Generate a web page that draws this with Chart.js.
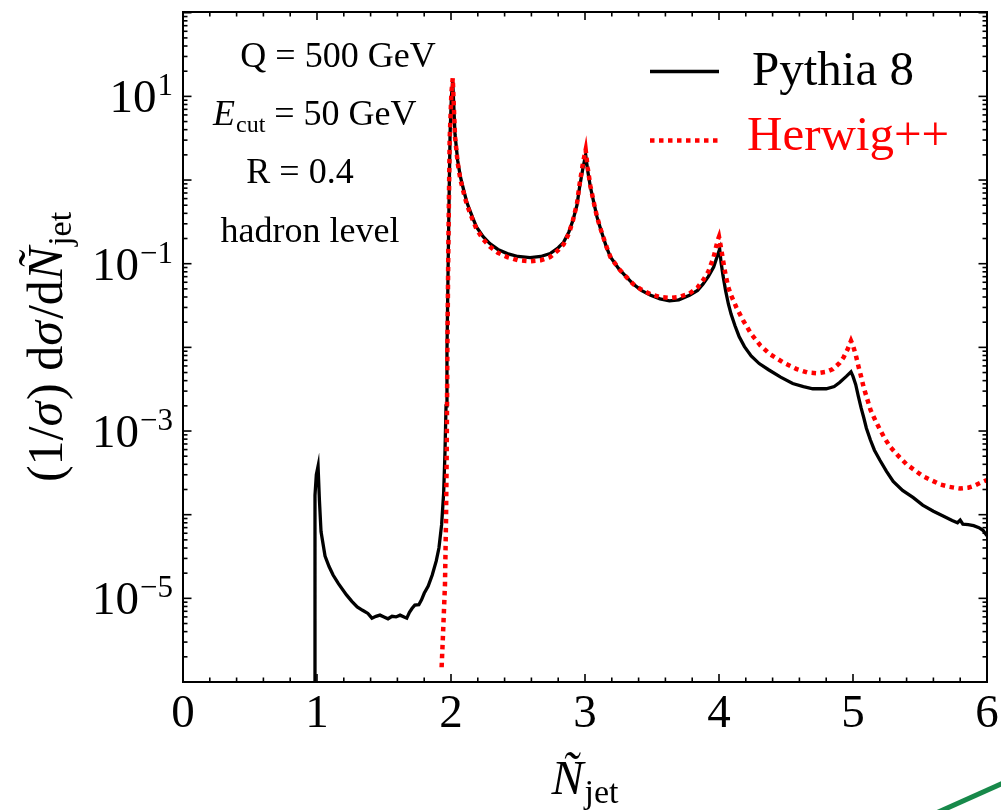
<!DOCTYPE html>
<html lang="en">
<head>
<meta charset="UTF-8">
<title>Ñjet distribution</title>
<script src="https://cdn.jsdelivr.net/npm/chart.js"></script>
<style>
  body { margin: 0; background: #fff; }
  canvas { display: block; }
</style>
</head>
<body>
<canvas id="grafico" width="1001" height="810"></canvas>
<script>
// Pythia 8, hadron level
const pythiaX = [0.98, 0.985, 0.995, 1.008, 1.018, 1.03, 1.06, 1.09, 1.12, 1.16, 1.22, 1.26, 1.30, 1.34, 1.38,
  1.41, 1.44, 1.47, 1.50, 1.53, 1.56, 1.59, 1.62, 1.65, 1.67, 1.69, 1.71, 1.73, 1.76, 1.78, 1.80, 1.83,
  1.86, 1.89, 1.91, 1.93, 1.945, 1.955, 1.963, 1.97, 1.977, 1.985, 1.993, 2.003, 2.013, 2.022, 2.03,
  2.05, 2.07, 2.10, 2.12, 2.16, 2.19, 2.24, 2.29, 2.35, 2.42, 2.50, 2.59, 2.67, 2.74, 2.80, 2.84, 2.88,
  2.91, 2.94, 2.96, 2.985, 3.005, 3.02, 3.04, 3.07, 3.09, 3.12, 3.16, 3.19, 3.25, 3.31, 3.36, 3.42,
  3.49, 3.56, 3.63, 3.70, 3.78, 3.84, 3.88, 3.92, 3.96, 3.985, 4.005, 4.015, 4.03, 4.05, 4.07, 4.09,
  4.12, 4.15, 4.19, 4.24, 4.30, 4.37, 4.46, 4.55, 4.63, 4.70, 4.80, 4.86, 4.90, 4.95, 4.985, 5.0,
  5.02, 5.04, 5.06, 5.08, 5.10, 5.13, 5.16, 5.20, 5.25, 5.30, 5.37, 5.45, 5.52, 5.60, 5.68, 5.74,
  5.78, 5.80, 5.82, 5.86, 5.90, 5.94, 5.97, 6.0];
const pythiaY = [1e-7, 1.7e-4, 3.0e-4, 3.8e-4, 1.5e-4, 6.3e-5, 3.2e-5, 2.4e-5, 1.9e-5, 1.5e-5, 1.1e-5, 9.2e-6, 7.9e-6, 7.2e-6, 6.6e-6,
  5.8e-6, 6.1e-6, 6.3e-6, 6.0e-6, 5.7e-6, 6.1e-6, 6.0e-6, 6.3e-6, 6.0e-6, 5.8e-6, 6.8e-6, 7.6e-6, 8.3e-6, 8.4e-6, 9.6e-6, 1.15e-5, 1.4e-5,
  1.9e-5, 2.8e-5, 4.0e-5, 7.6e-5, 1.8e-4, 5.5e-4, 2.0e-3, 9e-3, 0.06, 0.5, 3.5, 10, 15, 7, 3.5,
  1.7, 1.1, 0.70, 0.53, 0.36, 0.275, 0.21, 0.174, 0.148, 0.132, 0.122, 0.118, 0.122, 0.132, 0.155, 0.18, 0.24,
  0.33, 0.50, 0.83, 1.4, 2.0, 1.3, 0.83, 0.5, 0.36, 0.25, 0.158, 0.12, 0.088, 0.069, 0.057, 0.048,
  0.042, 0.038, 0.036, 0.037, 0.042, 0.048, 0.057, 0.07, 0.091, 0.12, 0.15, 0.105, 0.072, 0.047, 0.033, 0.025,
  0.018, 0.0135, 0.0102, 0.0079, 0.0064, 0.0054, 0.0044, 0.0037, 0.0034, 0.0032, 0.0032, 0.0034, 0.0038, 0.0045, 0.0051, 0.0045,
  0.0036, 0.0026, 0.0019, 0.00145, 0.00108, 7.8e-4, 5.9e-4, 4.5e-4, 3.3e-4, 2.5e-4, 1.95e-4, 1.6e-4, 1.3e-4, 1.1e-4, 9.5e-5, 8.5e-5,
  8.0e-5, 8.6e-5, 7.7e-5, 7.6e-5, 7.4e-5, 7.0e-5, 6.5e-5, 5.6e-5];

// Herwig++, hadron level
const herwigX = [1.93, 1.94, 1.955, 1.963, 1.968, 1.973, 1.98, 1.99, 2.003, 2.013, 2.022, 2.03, 2.05, 2.07,
  2.10, 2.12, 2.16, 2.19, 2.24, 2.29, 2.35, 2.42, 2.50, 2.59, 2.67, 2.74, 2.80, 2.84, 2.88, 2.91, 2.94,
  2.96, 2.985, 3.005, 3.02, 3.04, 3.07, 3.09, 3.12, 3.16, 3.19, 3.25, 3.31, 3.36, 3.42, 3.49, 3.56,
  3.63, 3.70, 3.78, 3.84, 3.88, 3.92, 3.96, 3.99, 4.00, 4.015, 4.03, 4.05, 4.07, 4.09, 4.13, 4.18,
  4.24, 4.31, 4.38, 4.48, 4.58, 4.66, 4.73, 4.80, 4.85, 4.90, 4.93, 4.96, 4.985, 5.0, 5.02, 5.04,
  5.06, 5.08, 5.11, 5.13, 5.17, 5.20, 5.24, 5.28, 5.34, 5.40, 5.46, 5.52, 5.58, 5.65, 5.72, 5.80,
  5.86, 5.90, 5.95, 6.0];
const herwigY = [1.5e-6, 3.6e-6, 1.45e-5, 9e-5, 5.7e-4, 9e-3, 0.145, 3, 11, 16.5, 7, 3.3, 1.6, 1.02,
  0.65, 0.5, 0.34, 0.26, 0.195, 0.16, 0.135, 0.12, 0.11, 0.107, 0.11, 0.12, 0.145, 0.17, 0.23, 0.33, 0.52,
  0.9, 1.6, 2.3, 1.4, 0.85, 0.5, 0.36, 0.25, 0.16, 0.12, 0.088, 0.069, 0.057, 0.049, 0.043, 0.04,
  0.039, 0.04, 0.044, 0.052, 0.063, 0.08, 0.12, 0.19, 0.21, 0.155, 0.11, 0.072, 0.052, 0.042, 0.03, 0.021,
  0.0145, 0.0105, 0.0083, 0.0066, 0.0055, 0.005, 0.0049, 0.0051, 0.0055, 0.0065, 0.0076, 0.0095, 0.012, 0.0105, 0.0082, 0.006,
  0.0045, 0.0033, 0.0023, 0.0018, 0.0013, 0.00105, 8e-4, 6.4e-4, 5e-4, 4e-4, 3.4e-4, 2.9e-4, 2.6e-4, 2.3e-4, 2.15e-4, 2.05e-4,
  2.1e-4, 2.2e-4, 2.4e-4, 2.6e-4];

const xTicks = [0, 1, 2, 3, 4, 5, 6];
const yLabelPowers = [1, -1, -3, -5];
const xMin = 0, xMax = 6;
const yMin = 1e-6, yMax = 102;

const notes = ['Q = 500 GeV', 'R = 0.4', 'hadron level'];
const legendNames = ['Pythia 8', 'Herwig++'];

const SERIF = '"Liberation Serif", "Times New Roman", serif';
const toPoints = (xs, ys) => xs.map((v, i) => ({ x: v, y: ys[i] }));

function drawLine(ctx, x1, y1, x2, y2) {
  ctx.beginPath();
  ctx.moveTo(x1, y1);
  ctx.lineTo(x2, y2);
  ctx.stroke();
}

// draws text pieces one after another, returns the end x
function drawRun(ctx, x, y, pieces) {
  for (const p of pieces) {
    ctx.font = p.font;
    ctx.fillText(p.t, x, y + (p.dy || 0));
    x += ctx.measureText(p.t).width + (p.gap || 0);
  }
  return x;
}
function runWidth(ctx, pieces) {
  let w = 0;
  for (const p of pieces) {
    ctx.font = p.font;
    w += ctx.measureText(p.t).width + (p.gap || 0);
  }
  return w;
}

const frame = {
  id: 'frame',
  afterDraw(chart) {
    const { ctx, chartArea: a, scales: { x, y } } = chart;
    ctx.save();
    ctx.strokeStyle = '#000';
    ctx.fillStyle = '#000';

    // box
    ctx.lineWidth = 2;
    ctx.strokeRect(a.left, a.top, a.right - a.left, a.bottom - a.top);

    // inward ticks, x every 0.2
    ctx.lineWidth = 1.6;
    for (let i = 0; i <= 30; i++) {
      const px = x.getPixelForValue(i / 5);
      const len = i % 5 === 0 ? 8 : 4.5;
      drawLine(ctx, px, a.bottom, px, a.bottom - len);
      drawLine(ctx, px, a.top, px, a.top + len);
    }
    // log ticks on y
    for (let e = -6; e <= 2; e++) {
      for (let m = 1; m <= 9; m++) {
        const v = m * Math.pow(10, e);
        if (v < yMin || v > yMax) continue;
        const py = y.getPixelForValue(v);
        const len = m === 1 ? 8.5 : 4.5;
        drawLine(ctx, a.left, py, a.left + len, py);
        drawLine(ctx, a.right, py, a.right - len, py);
      }
    }

    // x tick labels
    ctx.textAlign = 'center';
    ctx.textBaseline = 'alphabetic';
    ctx.font = '47px ' + SERIF;
    xTicks.forEach(v => ctx.fillText(String(v), x.getPixelForValue(v), a.bottom + 45));

    // y tick labels 10^n
    ctx.textAlign = 'left';
    yLabelPowers.forEach(p => {
      const py = y.getPixelForValue(Math.pow(10, p));
      const sup = (p < 0 ? '\u2212' : '') + Math.abs(p);
      ctx.font = '31px ' + SERIF;
      const sw = ctx.measureText(sup).width;
      const sx = a.left - 10 - sw;
      ctx.fillText(sup, sx, py - 1);
      ctx.font = '47px ' + SERIF;
      const mw = ctx.measureText('10').width;
      ctx.fillText('10', sx - mw - 1, py + 16);
    });

    // x axis title
    const xt = [
      { t: 'Ñ', font: 'italic 48px ' + SERIF, gap: 1 },
      { t: 'jet', font: '34px ' + SERIF, dy: 9 }
    ];
    const xcx = x.getPixelForValue(3);
    drawRun(ctx, xcx - runWidth(ctx, xt) / 2, a.bottom + 112, xt);

    // y axis title, rotated
    const yt = [
      { t: '(1/', font: '50px ' + SERIF },
      { t: 'σ', font: 'italic 50px ' + SERIF, gap: 2 },
      { t: ') d', font: '50px ' + SERIF },
      { t: 'σ', font: 'italic 50px ' + SERIF, gap: 2 },
      { t: '/d', font: '50px ' + SERIF },
      { t: 'Ñ', font: 'italic 50px ' + SERIF, gap: 1 },
      { t: 'jet', font: '34px ' + SERIF, dy: 9 }
    ];
    ctx.save();
    ctx.translate(62, (a.top + a.bottom) / 2);
    ctx.rotate(-Math.PI / 2);
    drawRun(ctx, -runWidth(ctx, yt) / 2, 0, yt);
    ctx.restore();

    // parameter notes
    const L = a.left;
    ctx.textAlign = 'center';
    ctx.font = '36px ' + SERIF;
    ctx.fillText(notes[0], L + 155, a.top + 55);
    ctx.fillText(notes[1], L + 117, a.top + 171);
    ctx.fillText(notes[2], L + 127, a.top + 230);
    ctx.textAlign = 'left';
    drawRun(ctx, L + 30, a.top + 113, [
      { t: 'E', font: 'italic 36px ' + SERIF, gap: 1 },
      { t: 'cut', font: '24px ' + SERIF, dy: 7 },
      { t: ' = 50 GeV', font: '36px ' + SERIF }
    ]);

    // legend
    const ds = chart.data.datasets;
    const rows = [
      { d: ds[1], ly: a.top + 59.5, ty: a.top + 73, tx: L + 569 },
      { d: ds[0], ly: a.top + 128.5, ty: a.top + 138, tx: L + 564 }
    ];
    rows.forEach(r => {
      ctx.strokeStyle = r.d.borderColor;
      ctx.lineWidth = r.d.borderWidth;
      ctx.setLineDash(r.d.borderDash || []);
      drawLine(ctx, L + 467, r.ly, L + 536, r.ly);
      ctx.setLineDash([]);
      ctx.fillStyle = r.d.borderColor;
      ctx.font = '49px ' + SERIF;
      ctx.fillText(r.d.label, r.tx, r.ty);
    });

    // corner stroke
    ctx.strokeStyle = '#17894a';
    ctx.lineWidth = 5;
    drawLine(ctx, 925, 818, 1010, 780);
    ctx.restore();
  }
};

const ctx = document.getElementById('grafico').getContext('2d');
const grafico = new Chart(ctx, {
  type: 'line',
  data: {
    datasets: [{
      label: legendNames[1],
      data: toPoints(herwigX, herwigY),
      borderColor: '#ff0000',
      borderWidth: 4.5,
      borderDash: [4.5, 4.5],
      borderCapStyle: 'butt',
      pointRadius: 0,
      tension: 0,
      order: 0
    }, {
      label: legendNames[0],
      data: toPoints(pythiaX, pythiaY),
      borderColor: '#000000',
      borderWidth: 3.3,
      pointRadius: 0,
      tension: 0,
      order: 1
    }]
  },
  options: {
    responsive: false,
    animation: false,
    layout: { padding: { left: 183, top: 12, right: 14, bottom: 128 } },
    plugins: { legend: { display: false }, tooltip: { enabled: false } },
    scales: {
      x: { type: 'linear', min: xMin, max: xMax, display: false },
      y: { type: 'logarithmic', min: yMin, max: yMax, display: false }
    }
  },
  plugins: [frame]
});
</script>
</body>
</html>
